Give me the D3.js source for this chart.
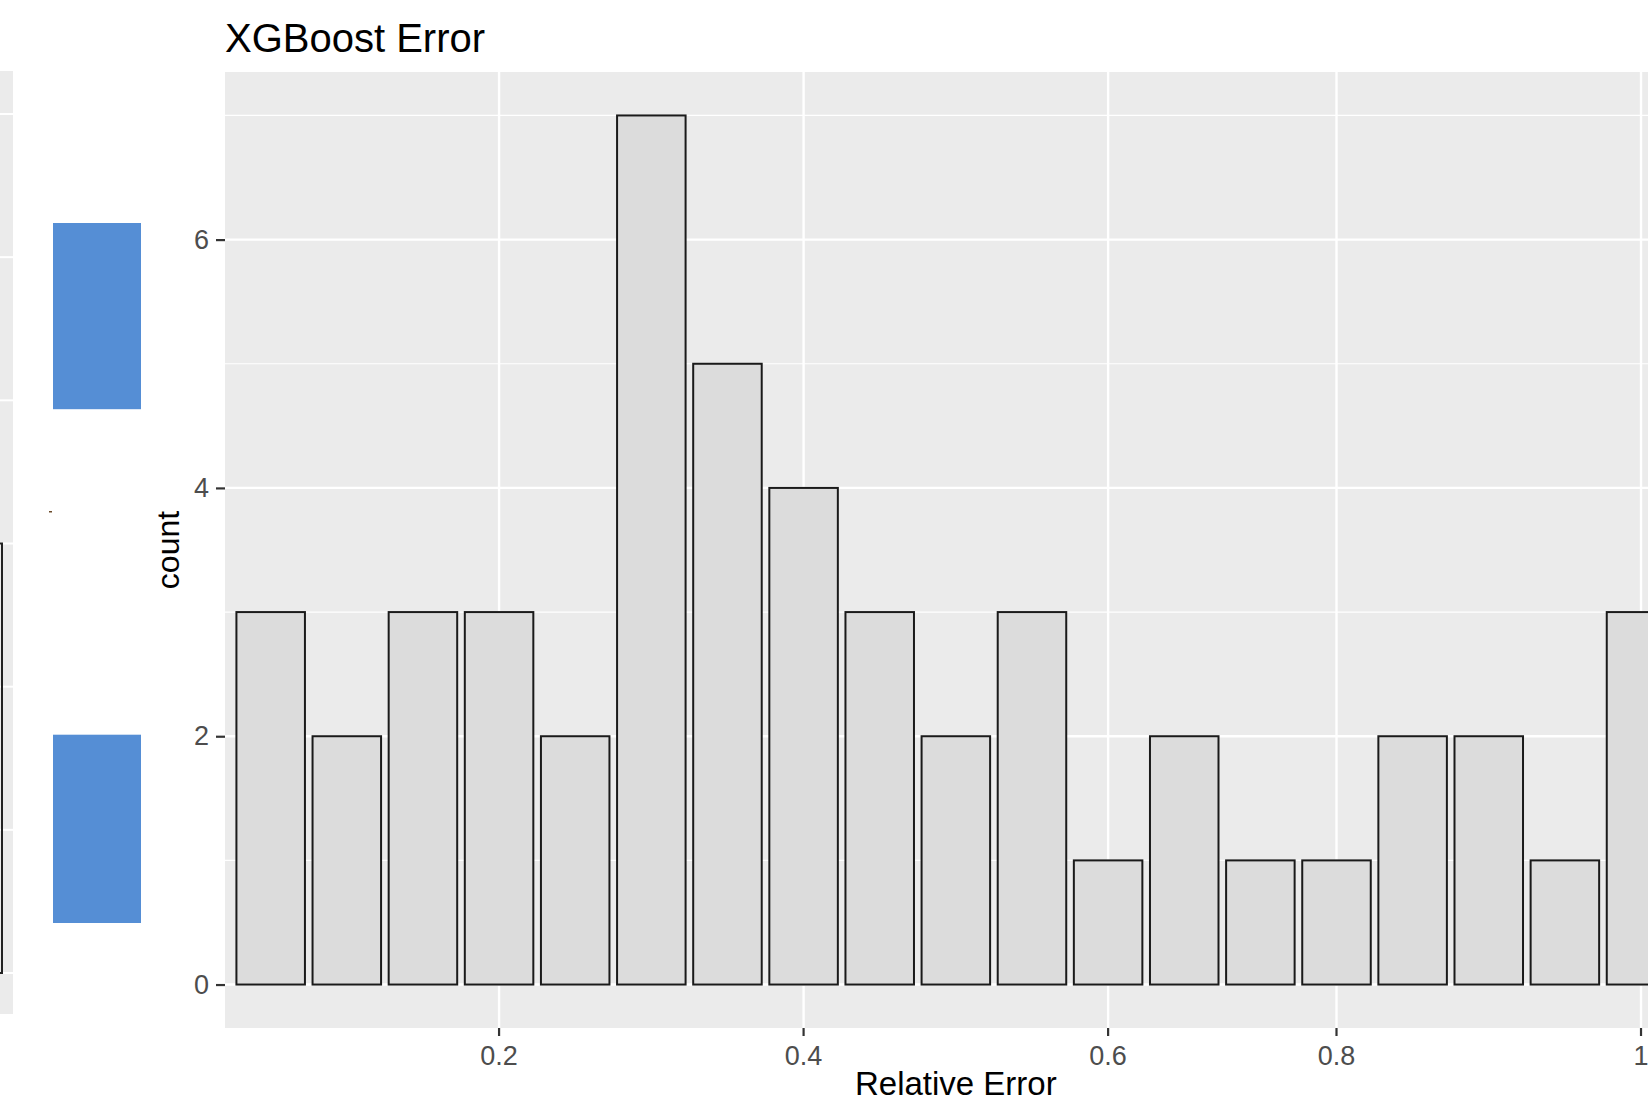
<!DOCTYPE html>
<html>
<head>
<meta charset="utf-8">
<script src="https://cdn.jsdelivr.net/npm/d3@7"></script>
<style>
  body { margin: 0; background: #ffffff; }
  svg { display: block; font-family: "Liberation Sans", Arial, sans-serif; }
</style>
</head>
<body>
<div id="chart"></div>
<script>
// bins of relative error (one bar each) and their counts
const bins = ["0.05", "0.1", "0.15", "0.2", "0.25", "0.3", "0.35", "0.4", "0.45", "0.5",
  "0.55", "0.6", "0.67", "0.73", "0.8", "0.85", "0.9", "0.95", "1"];
const counts = [3, 2, 3, 3, 2, 7, 5, 4, 3, 2, 3, 1, 2, 1, 1, 2, 2, 1, 3];
const xTicks = ["0.2", "0.4", "0.6", "0.8", "1"];
const yTicks = [0, 2, 4, 6];
const yMinor = [1, 3, 5, 7];

// the cut off neighbour plot on the left edge
const leftGrid = [0, 1, 2, 3, 4, 5, 6];
const leftBar = 3;
const blueBlocks = [[0, 2.66], [7.31, 10]];

const width = 1648,
  height = 1103;
const panel = { left: 225, top: 72, bottom: 1028, step: 76.13 };
panel.right = panel.left + 19.2 * panel.step;

const svg = d3.select("#chart")
  .append("svg")
  .attr("width", width)
  .attr("height", height);

// ---- left fragment --------------------------------------------------
const leftY = d3.scaleLinear().domain([0, 6]).range([973, 114]);
svg.append("rect")
  .attr("x", 0).attr("y", 71)
  .attr("width", 13).attr("height", 1014 - 71)
  .attr("fill", "#ebebeb");
svg.selectAll("leftGrid")
  .data(leftGrid)
  .join("line")
  .attr("x1", 0).attr("x2", 13)
  .attr("y1", d => leftY(d)).attr("y2", d => leftY(d))
  .attr("stroke", "#ffffff")
  .attr("stroke-width", 2);
svg.append("rect")
  .attr("x", -4).attr("y", leftY(leftBar))
  .attr("width", 6).attr("height", leftY(0) - leftY(leftBar))
  .attr("fill", "none")
  .attr("stroke", "#222222")
  .attr("stroke-width", 2);

const blockY = d3.scaleLinear().domain([0, 10]).range([223, 923]);
svg.selectAll("blocks")
  .data(blueBlocks)
  .join("rect")
  .attr("x", 53)
  .attr("width", 88)
  .attr("y", d => blockY(d[0]))
  .attr("height", d => blockY(d[1]) - blockY(d[0]))
  .attr("fill", "#558ed5");
svg.append("rect")
  .attr("x", 49).attr("y", 511).attr("width", 3).attr("height", 1.5)
  .attr("fill", "#6b4a2a");

// ---- main panel -----------------------------------------------------
const x = d3.scaleBand()
  .domain(bins)
  .range([panel.left, panel.right])
  .paddingInner(0.1)
  .paddingOuter(0.15);

const y = d3.scaleLinear()
  .domain([-0.35, 7.35])
  .range([panel.bottom, panel.top]);

svg.append("rect")
  .attr("x", panel.left)
  .attr("y", panel.top)
  .attr("width", panel.right - panel.left)
  .attr("height", panel.bottom - panel.top)
  .attr("fill", "#ebebeb");

// grid
svg.selectAll("minorY")
  .data(yMinor)
  .join("line")
  .attr("x1", panel.left).attr("x2", panel.right)
  .attr("y1", d => y(d)).attr("y2", d => y(d))
  .attr("stroke", "#ffffff")
  .attr("stroke-width", 1.2);
svg.selectAll("majorY")
  .data(yTicks)
  .join("line")
  .attr("x1", panel.left).attr("x2", panel.right)
  .attr("y1", d => y(d)).attr("y2", d => y(d))
  .attr("stroke", "#ffffff")
  .attr("stroke-width", 2.4);
svg.selectAll("majorX")
  .data(xTicks)
  .join("line")
  .attr("x1", d => x(d) + x.bandwidth() / 2).attr("x2", d => x(d) + x.bandwidth() / 2)
  .attr("y1", panel.top).attr("y2", panel.bottom)
  .attr("stroke", "#ffffff")
  .attr("stroke-width", 2.4);

// bars
svg.selectAll("bars")
  .data(bins)
  .join("rect")
  .attr("x", d => x(d))
  .attr("width", x.bandwidth())
  .attr("y", (d, i) => y(counts[i]))
  .attr("height", (d, i) => y(0) - y(counts[i]))
  .attr("fill", "#dcdcdc")
  .attr("stroke", "#1a1a1a")
  .attr("stroke-width", 2);

// axes
const xAxis = svg.append("g")
  .attr("transform", `translate(0, ${panel.bottom})`)
  .call(d3.axisBottom(x).tickValues(xTicks).tickSize(8).tickPadding(10));
const yAxis = svg.append("g")
  .attr("transform", `translate(${panel.left}, 0)`)
  .call(d3.axisLeft(y).tickValues(yTicks).tickSize(9).tickPadding(7));

[xAxis, yAxis].forEach(function (g) {
  g.select(".domain").remove();
  g.selectAll(".tick line").attr("stroke", "#333333").attr("stroke-width", 2.2);
  g.selectAll(".tick text")
    .attr("fill", "#4d4d4d")
    .style("font-size", "27px")
    .style("font-family", "'Liberation Sans', Arial, sans-serif");
});
xAxis.selectAll(".tick text").attr("dy", "0.71em");

// titles
svg.append("text")
  .attr("x", panel.left)
  .attr("y", 52)
  .text("XGBoost Error")
  .style("font-size", "40px")
  .attr("fill", "#000000");

svg.append("text")
  .attr("x", (panel.left + panel.right) / 2)
  .attr("y", 1095)
  .attr("text-anchor", "middle")
  .text("Relative Error")
  .style("font-size", "33px")
  .attr("fill", "#000000");

svg.append("text")
  .attr("transform", `translate(179, ${(panel.top + panel.bottom) / 2}) rotate(-90)`)
  .attr("text-anchor", "middle")
  .text("count")
  .style("font-size", "32px")
  .attr("fill", "#000000");
</script>
</body>
</html>
